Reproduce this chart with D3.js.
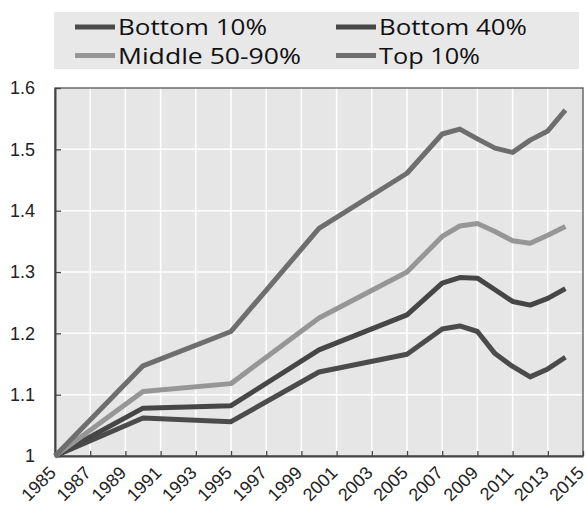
<!DOCTYPE html>
<html>
<head>
<meta charset="utf-8">
<script src="https://cdn.jsdelivr.net/npm/d3@7"></script>
<style>
  html, body { margin: 0; padding: 0; background: #ffffff; }
  svg { display: block; }
</style>
</head>
<body>
<svg id="chart" width="587" height="508"></svg>
<script>
const years = [1985, 1990, 1995, 2000, 2005, 2007, 2008, 2009, 2010, 2011, 2012, 2013, 2014];
const bottom10 = [1.000, 1.062, 1.056, 1.137, 1.166, 1.207, 1.212, 1.203, 1.167, 1.146, 1.129, 1.142, 1.161];
const bottom40 = [1.000, 1.078, 1.082, 1.173, 1.230, 1.282, 1.291, 1.290, 1.271, 1.252, 1.246, 1.257, 1.273];
const middle5090 = [1.000, 1.105, 1.118, 1.225, 1.300, 1.358, 1.375, 1.379, 1.366, 1.351, 1.347, 1.360, 1.374];
const top10 = [1.000, 1.147, 1.203, 1.371, 1.461, 1.525, 1.533, 1.517, 1.502, 1.495, 1.515, 1.530, 1.564];
const seriesNames = ["Bottom 10%", "Bottom 40%", "Middle 50-90%", "Top 10%"];
const xTickLabels = ["1985","1987","1989","1991","1993","1995","1997","1999","2001","2003","2005","2007","2009","2011","2013","2015"];
const yTickLabels = ["1", "1.1", "1.2", "1.3", "1.4", "1.5", "1.6"];

const series = [
  { name: seriesNames[0], values: bottom10, color: "#4b4b4b" },
  { name: seriesNames[1], values: bottom40, color: "#464646" },
  { name: seriesNames[2], values: middle5090, color: "#969696" },
  { name: seriesNames[3], values: top10, color: "#6e6e6e" }
];

const svg = d3.select("#chart");
const pL = 55, pR = 583, pT = 88, pB = 456;

const x = d3.scaleLinear().domain([1985, 2015]).range([pL, pR]);
const y = d3.scaleLinear().domain([1.0, 1.6]).range([pB, pT]);

// plot background
svg.append("rect").attr("x", pL).attr("y", pT)
  .attr("width", pR - pL).attr("height", pB - pT)
  .attr("fill", "#e6e6e6");

// grid
const xTickVals = xTickLabels.map(Number);
const yTickVals = yTickLabels.map(Number);
svg.append("g").selectAll("line").data(xTickVals.slice(1, -1)).join("line")
  .attr("x1", d => x(d)).attr("x2", d => x(d))
  .attr("y1", pT).attr("y2", pB)
  .attr("stroke", "#ffffff").attr("stroke-width", 1.5);
svg.append("g").selectAll("line").data(yTickVals.slice(1, -1)).join("line")
  .attr("x1", pL).attr("x2", pR)
  .attr("y1", d => y(d)).attr("y2", d => y(d))
  .attr("stroke", "#ffffff").attr("stroke-width", 1.5);

// frame
svg.append("rect").attr("x", pL).attr("y", pT)
  .attr("width", pR - pL).attr("height", pB - pT)
  .attr("fill", "none").attr("stroke", "#555555").attr("stroke-width", 1.3);

// axes
const xAxis = d3.axisBottom(x).tickValues(xTickVals).tickSizeInner(-5).tickSizeOuter(0)
  .tickFormat(() => "");
const gx = svg.append("g").attr("transform", `translate(0,${pB})`).call(xAxis);
gx.select(".domain").attr("stroke", "#444").attr("stroke-width", 2);
gx.selectAll(".tick line").attr("stroke", "#444").attr("stroke-width", 1.3);
gx.selectAll(".tick text").remove();
// rotated x labels
svg.append("g").selectAll("text").data(xTickVals).join("text")
  .attr("transform", d => `translate(${x(d) + 2},${pB + 18}) rotate(-45)`)
  .attr("text-anchor", "end")
  .attr("font-family", "Liberation Sans, Arial, sans-serif")
  .attr("font-size", 18).attr("fill", "#222")
  .text((d, i) => xTickLabels[i]);

const yAxis = d3.axisLeft(y).tickValues(yTickVals).tickSizeInner(-6).tickSizeOuter(0)
  .tickPadding(20)
  .tickFormat((d, i) => yTickLabels[i]);
const gy = svg.append("g").attr("transform", `translate(${pL},0)`).call(yAxis);
gy.select(".domain").attr("stroke", "#444").attr("stroke-width", 2);
gy.selectAll(".tick line").attr("stroke", "#444").attr("stroke-width", 1.3);
gy.selectAll(".tick text")
  .attr("font-family", "Liberation Sans, Arial, sans-serif")
  .attr("font-size", 18).attr("fill", "#222");

// lines
const line = d3.line().x((d, i) => x(years[i])).y(d => y(d));
svg.append("g").selectAll("path").data(series).join("path")
  .attr("d", d => line(d.values))
  .attr("fill", "none")
  .attr("stroke", d => d.color)
  .attr("stroke-width", 5)
  .attr("stroke-linejoin", "round")
  .attr("stroke-linecap", "butt");

// legend
const lg = svg.append("g");
lg.append("rect").attr("x", 54).attr("y", 12).attr("width", 525).attr("height", 57)
  .attr("fill", "#e8e8e8");
const legendPos = [
  { lx: 75, ly: 27, tl: 149 },
  { lx: 336, ly: 27, tl: 148 },
  { lx: 75, ly: 55.5, tl: 183 },
  { lx: 336, ly: 55.5, tl: 101 }
];
series.forEach((s, i) => {
  const p = legendPos[i];
  lg.append("line").attr("x1", p.lx).attr("x2", p.lx + 40)
    .attr("y1", p.ly).attr("y2", p.ly)
    .attr("stroke", s.color).attr("stroke-width", 5);
  lg.append("text").attr("x", p.lx + 43).attr("y", p.ly + 8)
    .attr("font-family", "Open Sans, Noto Sans, sans-serif")
    .attr("font-size", 21.5).attr("fill", "#111")
    .attr("textLength", p.tl).attr("lengthAdjust", "spacingAndGlyphs")
    .text(s.name);
});
</script>
</body>
</html>
